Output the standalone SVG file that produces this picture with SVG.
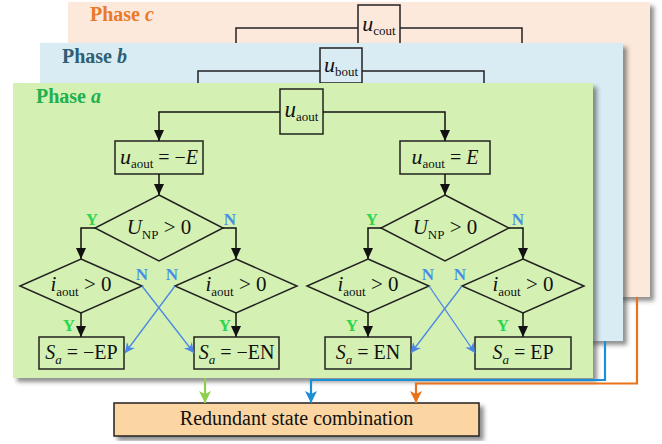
<svg xmlns="http://www.w3.org/2000/svg" width="662" height="444" viewBox="0 0 662 444">
<defs>
<filter id="sh" x="-5%" y="-5%" width="115%" height="120%">
<feDropShadow dx="4" dy="4" stdDeviation="2" flood-color="#444" flood-opacity="0.6"/>
</filter>
<marker id="ak" markerUnits="userSpaceOnUse" markerWidth="10" markerHeight="11" refX="11" refY="5" orient="auto">
<path d="M0,0 L11,5 L0,10 Z" fill="#111"/>
</marker>
<marker id="ab" markerUnits="userSpaceOnUse" markerWidth="11" markerHeight="10" refX="10" refY="5" orient="auto">
<path d="M0,0 L10,5 L0,10 L3,5 Z" fill="#4a86e8"/>
</marker>
<marker id="ag" markerUnits="userSpaceOnUse" markerWidth="14" markerHeight="12" refX="12" refY="6" orient="auto">
<path d="M0,0 L12,6 L0,12 L3,6 Z" fill="#8ccf4a"/>
</marker>
<marker id="abl" markerUnits="userSpaceOnUse" markerWidth="14" markerHeight="12" refX="12" refY="6" orient="auto">
<path d="M0,0 L12,6 L0,12 L3,6 Z" fill="#1a8fd6"/>
</marker>
<marker id="aor" markerUnits="userSpaceOnUse" markerWidth="14" markerHeight="12" refX="12" refY="6" orient="auto">
<path d="M0,0 L12,6 L0,12 L3,6 Z" fill="#e8731a"/>
</marker>
</defs>
<style>
.box{fill:none;stroke:#222;stroke-width:1.5}
.ln{fill:none;stroke:#222;stroke-width:1.5}
.arr{fill:none;stroke:#111;stroke-width:1.5;marker-end:url(#ak)}
.barr{fill:none;stroke:#4a86e8;stroke-width:1.3;marker-end:url(#ab)}
.m{font-family:"Liberation Serif","Times New Roman",serif;font-size:20px;fill:#111;text-anchor:middle}
.d{font-size:21px}
.i{font-style:italic}
.s{font-size:13px}
.Y{font-family:"Liberation Serif",serif;font-weight:bold;font-size:17px;fill:#2bd64f;text-anchor:middle}
.N{font-family:"Liberation Serif",serif;font-weight:bold;font-size:17px;fill:#4a8ee6;text-anchor:middle}
.ph{font-family:"Liberation Serif",serif;font-weight:bold;font-size:20px}
</style>

<g id="phase-c">
<rect x="68" y="2" width="582" height="295" fill="#fce9dc" filter="url(#sh)"/>
<text class="ph" x="90" y="21" fill="#e87a2a">Phase <tspan class="i">c</tspan></text>
<path class="ln" d="M358,28 H236 V50 M400,28 H522 V50"/>
<g id="ucout">
<rect class="box" x="358" y="5" width="42" height="39" fill="#fce9dc"/>
<text class="m" x="379" y="31"><tspan class="i" font-size="22">u</tspan><tspan class="s" dy="4">cout</tspan></text>
</g>
</g>

<g id="phase-b">
<rect x="40" y="43" width="583" height="298" fill="#d9ebf3" filter="url(#sh)"/>
<text class="ph" x="62" y="63" fill="#2e5f73">Phase <tspan class="i">b</tspan></text>
<path class="ln" d="M320,71 H198 V90 M362,71 H484 V90"/>
<g id="ubout">
<rect class="box" x="320" y="48" width="42" height="35" fill="#d9ebf3"/>
<text class="m" x="341" y="72"><tspan class="i" font-size="22">u</tspan><tspan class="s" dy="4">bout</tspan></text>
</g>
</g>

<g id="phase-a">
<rect x="13" y="83" width="580" height="295" fill="#d4f1b3" filter="url(#sh)"/>
<text class="ph" x="36" y="103" fill="#1fb050">Phase <tspan class="i">a</tspan></text>
</g>

<g id="uaout">
<rect class="box" x="280" y="89" width="43" height="45"/>
<text class="m" x="301.5" y="117"><tspan class="i" font-size="23">u</tspan><tspan class="s" dy="4">aout</tspan></text>
</g>

<g id="neg-E">
<rect class="box" x="115" y="141" width="88" height="33"/>
<text class="m" x="159" y="164"><tspan class="i" font-size="22">u</tspan><tspan class="s" dy="4">aout</tspan><tspan dy="-4"> = −</tspan><tspan class="i">E</tspan></text>
</g>
<g id="pos-E">
<rect class="box" x="400" y="141" width="90" height="33"/>
<text class="m" x="445" y="164"><tspan class="i" font-size="22">u</tspan><tspan class="s" dy="4">aout</tspan><tspan dy="-4"> = </tspan><tspan class="i">E</tspan></text>
</g>

<g id="unp-left">
<polygon class="box" points="159,195 223,228 159,261 95,228"/>
<text class="m d" x="159" y="234"><tspan class="i">U</tspan><tspan class="s" font-size="12" dy="5">NP</tspan><tspan dy="-5"> &gt; 0</tspan></text>
</g>
<g id="unp-right">
<polygon class="box" points="445,195 509,228 445,261 381,228"/>
<text class="m d" x="445" y="234"><tspan class="i">U</tspan><tspan class="s" font-size="12" dy="5">NP</tspan><tspan dy="-5"> &gt; 0</tspan></text>
</g>

<g id="i-ll">
<polygon class="box" points="81,259 142,286 81,313 20,286"/>
<text class="m d" x="81" y="291"><tspan class="i">i</tspan><tspan class="s" dy="5">aout</tspan><tspan dy="-5"> &gt; 0</tspan></text>
</g>
<g id="i-lr">
<polygon class="box" points="236,259 297,286 236,313 175,286"/>
<text class="m d" x="236" y="291"><tspan class="i">i</tspan><tspan class="s" dy="5">aout</tspan><tspan dy="-5"> &gt; 0</tspan></text>
</g>
<g id="i-rl">
<polygon class="box" points="368,259 429,286 368,313 307,286"/>
<text class="m d" x="368" y="291"><tspan class="i">i</tspan><tspan class="s" dy="5">aout</tspan><tspan dy="-5"> &gt; 0</tspan></text>
</g>
<g id="i-rr">
<polygon class="box" points="523,259 584,286 523,313 462,286"/>
<text class="m d" x="523" y="291"><tspan class="i">i</tspan><tspan class="s" dy="5">aout</tspan><tspan dy="-5"> &gt; 0</tspan></text>
</g>

<g id="s-negEP">
<rect class="box" x="39" y="337" width="85" height="32"/>
<text class="m" x="81.5" y="359"><tspan class="i">S</tspan><tspan class="s i" dy="5">a</tspan><tspan dy="-5"> = −EP</tspan></text>
</g>
<g id="s-negEN">
<rect class="box" x="194" y="337" width="85" height="32"/>
<text class="m" x="236.5" y="359"><tspan class="i">S</tspan><tspan class="s i" dy="5">a</tspan><tspan dy="-5"> = −EN</tspan></text>
</g>
<g id="s-EN">
<rect class="box" x="325" y="337" width="86" height="32"/>
<text class="m" x="368" y="359"><tspan class="i">S</tspan><tspan class="s i" dy="5">a</tspan><tspan dy="-5"> = EN</tspan></text>
</g>
<g id="s-EP">
<rect class="box" x="475" y="337" width="96" height="32"/>
<text class="m" x="523" y="359"><tspan class="i">S</tspan><tspan class="s i" dy="5">a</tspan><tspan dy="-5"> = EP</tspan></text>
</g>

<g id="result">
<rect x="114" y="403" width="365" height="33" fill="#fcd6a2" stroke="#222" stroke-width="1.5" filter="url(#sh)"/>
<text class="m" x="296.5" y="425" font-size="17">Redundant state combination</text>
</g>

<g id="connectors">
<path class="arr" d="M280,112 H159 V141"/>
<path class="arr" d="M323,112 H445 V141"/>
<path class="arr" d="M159,174 V195"/>
<path class="arr" d="M445,174 V195"/>
<path class="arr" d="M95,228 H81 V259"/>
<path class="arr" d="M223,228 H236 V259"/>
<path class="arr" d="M381,228 H368 V259"/>
<path class="arr" d="M509,228 H523 V259"/>
<path class="arr" d="M81,313 V337"/>
<path class="arr" d="M236,313 V337"/>
<path class="arr" d="M368,313 V337"/>
<path class="arr" d="M523,313 V337"/>
<path class="barr" d="M142,286 L194,353"/>
<path class="barr" d="M175,286 L125,353"/>
<path class="barr" d="M429,286 L475,353"/>
<path class="barr" d="M462,286 L411,353"/>
<path d="M205,378 V403" fill="none" stroke="#8ccf4a" stroke-width="2.2" marker-end="url(#ag)"/>
<path d="M605,341 V380 H311 V403" fill="none" stroke="#1a8fd6" stroke-width="2.2" marker-end="url(#abl)"/>
<path d="M637,297 V383.5 H416 V403" fill="none" stroke="#e8731a" stroke-width="2.2" marker-end="url(#aor)"/>
</g>

<g id="labels">
<text class="Y" x="92" y="225">Y</text>
<text class="N" x="230" y="225">N</text>
<text class="Y" x="372" y="225">Y</text>
<text class="N" x="518" y="225">N</text>
<text class="N" x="142" y="280">N</text>
<text class="N" x="172" y="280">N</text>
<text class="N" x="428" y="280">N</text>
<text class="N" x="460" y="280">N</text>
<text class="Y" x="69" y="331">Y</text>
<text class="Y" x="225" y="331">Y</text>
<text class="Y" x="352" y="331">Y</text>
<text class="Y" x="503" y="331">Y</text>
</g>
</svg>
